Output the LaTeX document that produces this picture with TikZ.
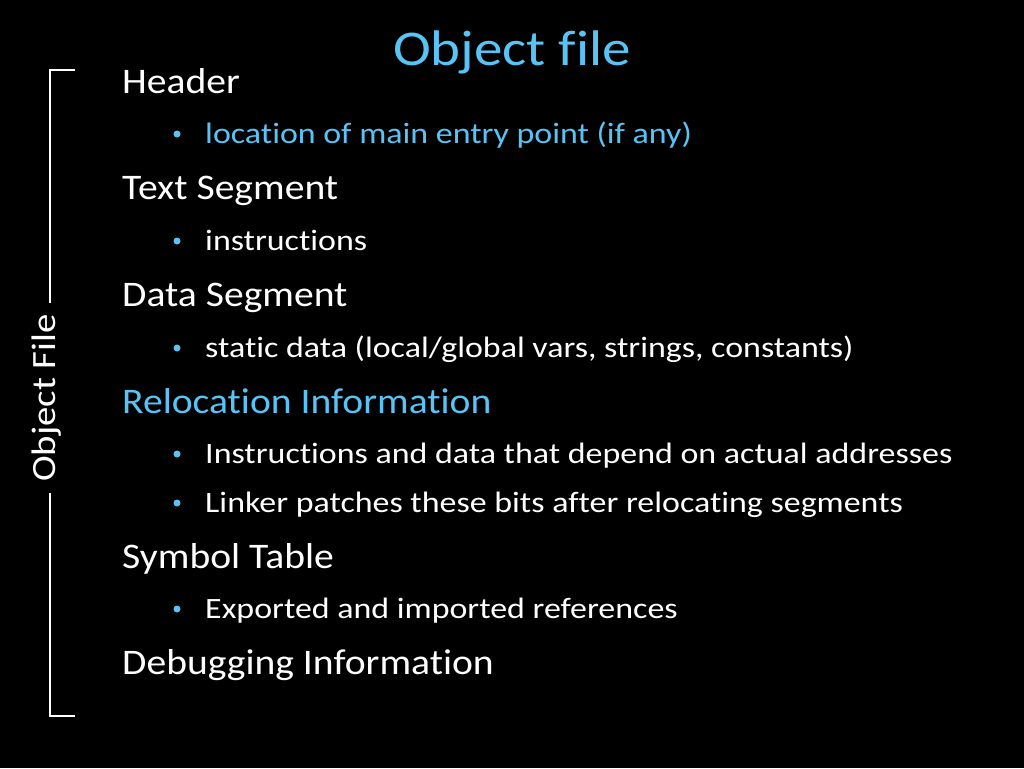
\documentclass[tikz,border=0pt]{standalone}
\usepackage{fontspec}
\setmainfont[Ligatures=NoCommon]{Carlito}
\definecolor{lb}{RGB}{88,196,245}
\begin{document}
\begin{tikzpicture}[x=1pt,y=1pt,
  head/.style={anchor=base west,text=white,font=\fontsize{36}{40}\selectfont,inner sep=0,xscale=1.1},
  sub/.style={anchor=base west,text=white,font=\fontsize{29.5}{33}\selectfont,inner sep=0,xscale=1.15},
  dot/.style={circle,fill=lb,inner sep=0,minimum size=7}]
\fill[black] (0,0) rectangle (1024,-768);
\useasboundingbox (0,0) rectangle (1024,-768);
\node[anchor=base,text=lb,font=\fontsize{50}{54}\selectfont,inner sep=0,xscale=1.14] (t) at (512,-66) {Object file};
\node[head] (h1) at (122,-93) {Header};
\node[sub,text=lb] (b1) at (205,-143) {location of main entry point (if any)};
\node[head] (h2) at (122,-199) {Text Segment};
\node[sub] (b2) at (205,-250) {instructions};
\node[head] (h3) at (122,-306) {Data Segment};
\node[sub] (b3) at (205,-357) {static data (local/global vars, strings, constants)};
\node[head,text=lb] (h4) at (122,-413) {Relocation Information};
\node[sub] (b4) at (205,-463) {Instructions and data that depend on actual addresses};
\node[sub] (b5) at (205,-512) {Linker patches these bits after relocating segments};
\node[head] (h5) at (122,-568) {Symbol Table};
\node[sub] (b6) at (205,-618) {Exported and imported references};
\node[head] (h6) at (122,-674) {Debugging Information};
\foreach \y in {-134,-241,-348,-454,-503,-609} \node[dot] at (177,\y) {};
\node[rotate=90,text=white,font=\fontsize{34}{38}\selectfont,inner sep=0,xscale=1.14] (of) at (47,-398) {Object File};
\coordinate (tt) at (75,-70); \coordinate (bt) at (75,-716);
\draw[white,line width=2.5] (tt) -- (50,-70) -- (50,-303);
\draw[white,line width=2.5] (50,-493) -- (50,-716) -- (bt);
\end{tikzpicture}
\end{document}
